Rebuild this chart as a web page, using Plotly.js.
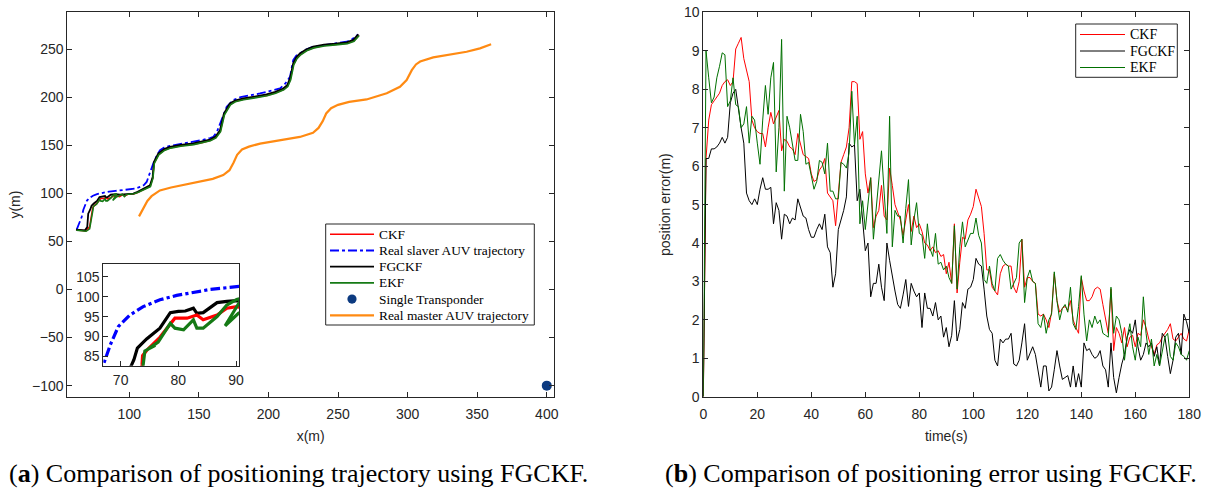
<!DOCTYPE html>
<html>
<head>
<meta charset="utf-8">
<script src="https://cdn.plot.ly/plotly-3.0.1.min.js"></script>
<style>html,body{margin:0;padding:0;background:#fff;}#chart{width:1207px;height:490px;}</style>
</head>
<body>
<div id="chart"></div>
<script>
// ---------- Panel (a): trajectories, [x, y] in metres ----------
const slaverTrajectory = [[62.2,62.2],[64,68],[65.8,75.3],[67,82.9],[68.2,87.9],[69.6,92.5],[71.6,95.4],[73.9,97.5],[76.8,99.2],[79.7,100.3],[82.6,101],[85.5,101.8],[90.1,102.5],[98.1,103.6],[104,104.8],[107.7,106.6],[110.5,108.5],[112.5,111.8],[114.5,120],[117.2,131],[120,140],[122.1,144.8],[125,147.5],[129.2,149.3],[137,151.5],[146,153.5],[153,155.5],[158,157.5],[160.3,158.6],[163,164],[165.2,172.6],[170,189.9],[174.7,196.9],[180,200],[193.9,203.8],[202,206.5],[208.3,209],[212,214],[215.5,221.1],[217.8,238.5],[220,243],[222.6,245.5],[227,249.5],[232.2,252.4],[245,255.5],[256.2,257.6],[260,260],[264.5,265.3]];
const fgckfTrajectory = [[61.7,62.2],[68.2,61.5],[69.8,64.9],[70.5,78.8],[71.9,82.9],[72.3,84.2],[72.9,87.1],[74.5,89.4],[76.8,92.1],[78.6,96],[80,96.3],[81.2,96.4],[82.6,97.1],[83.2,95.8],[84.3,96],[86.7,98.5],[88.4,98.8],[90.1,99],[93.3,98.6],[98,99.2],[102.9,99.7],[106,101.5],[110.1,104.9],[114.9,108.3],[116.8,117],[117.7,132.6],[120.8,141.3],[125,146],[129.2,148.2],[137,150.3],[146,151.8],[152,153.5],[158,155.9],[162,159],[165.2,165.6],[168,183],[172.3,193.4],[176,196.5],[181.9,198.6],[190,200.5],[198.6,202.8],[205,205.5],[210.6,209],[213.5,212.5],[215.5,219.5],[217.8,235.1],[220,241.5],[222.6,245.5],[227,249.5],[232.2,252.4],[240,254.5],[248,255.5],[256.2,257],[261,259.5],[264.5,265.3]];
const ckfTrajectory = [[62,62],[68.5,61],[71.5,65],[73,76],[73.7,82.9],[73.8,85.2],[74.6,86.7],[76.8,89.8],[79.4,94.6],[81.5,94.6],[83.2,95.4],[84.3,94.2],[86.7,95.4],[88.4,97.1],[90.1,97.5],[93,96.5],[95,98.5],[97,97.6],[99,99],[103,99.3],[106,100.8],[110.3,104],[115,107.5],[116.9,116],[117.8,131.5],[121,140.3],[125,145],[129.5,147.3],[137,149.4],[146,151],[152,152.6],[158,155],[162,158],[165.4,164.6],[168.2,182],[172.5,192.4],[176,195.6],[182,197.7],[190,199.6],[198.8,201.8],[205,204.5],[210.8,208],[213.7,211.5],[215.7,218.5],[218,234],[220.3,240.5],[223,244.5],[227.3,248.6],[232.5,251.5],[240,253.6],[248,254.7],[256.5,256],[261.3,258.5],[265,264.5]];
const ekfTrajectory = [[62,61.5],[69,60.5],[71.5,63],[73.2,75],[73.9,82.9],[74.2,86.4],[76.0,87.8],[74.8,86.9],[76.5,88.6],[78.6,93.3],[79.4,92.1],[80.9,91.7],[82.6,94.2],[83.2,92.1],[84.3,92.1],[86.7,95],[88.4,97.9],[90.1,99.3],[91,99.6],[88.1,92.7],[90.4,95.8],[92.5,97.5],[95,99],[96.5,96.5],[98,98.8],[101,99.2],[103.5,99.5],[106.5,101],[110.5,103.5],[115.2,107],[117,115.5],[118,131],[121.2,140],[125.3,144.6],[129.8,147],[137,149],[146.3,150.6],[152,152.3],[158.3,154.6],[162.3,157.6],[165.6,164],[168.4,181.5],[172.7,192],[176.2,195.2],[182.2,197.3],[190.2,199.2],[199,201.5],[205.2,204],[211,207.6],[213.9,211],[216,218],[218.2,233.5],[220.5,240],[223.2,244],[227.5,248.2],[232.7,251.2],[240.2,253.2],[248.2,254.3],[256.7,255.6],[261.5,258],[265.2,264]];
const masterTrajectory = [[107,76],[110,84],[113,92],[116,97],[122,103],[130,106],[146,110.7],[160,115],[167.5,119],[172,124],[175,132],[177.5,140],[181,145.5],[186,148.5],[194,151.7],[210,156],[222.6,158.6],[232,163],[236,168],[239,175],[241.5,183],[245,188.5],[250,192],[258,195],[270.5,197.6],[285,204],[294.5,210.7],[299.3,217.7],[303,228],[306,234],[309,237],[318.4,241.3],[330,244.5],[342.4,247.2],[352,250.7],[360,255]];
const transponder = [[400,-100]];

// ---------- Panel (b): position error (m) each second ----------
const ckfError = [0,6.2,7.2,7.6,7.7,7.8,7.9,8.1,8.2,8.25,
 8.1,8.2,9.05,9.2,9.35,8.8,8.5,8.2,7.2,7.0,
 6.9,6.85,6.85,6.5,7.0,7.4,7.1,7.3,7.45,6.4,
 6.7,6.65,6.5,6.45,6.3,6.85,6.6,6.3,6.25,6.2,
 5.8,5.6,5.65,5.9,6.0,6.2,5.3,5.2,5.1,4.45,
 5.3,6.1,6.3,6.5,7.0,8.2,8.2,8.15,6.7,6.9,
 5.8,5.3,5.7,4.4,4.7,4.85,5.5,4.7,4.6,5.95,
 5.5,5.0,4.8,4.6,4.2,4.6,5.0,4.3,4.7,4.4,
 4.5,4.3,4.0,3.95,3.8,3.9,3.75,3.8,3.65,3.7,
 3.2,3.5,2.95,4.5,2.7,3.5,4.15,4.1,4.6,4.75,
 4.95,5.4,5.2,4.95,4.25,3.3,3.3,2.85,2.75,2.65,
 3.2,3.4,3.45,3.4,3.4,2.85,2.7,3.0,4.1,2.85,
 3.1,3.1,3.0,2.95,2.15,2.1,2.15,2.0,1.8,2.2,
 3.2,2.5,2.2,2.3,2.35,2.25,2.5,2.0,1.8,1.65,
 3.1,2.75,2.5,2.5,2.6,2.8,2.85,2.8,2.4,2.0,
 1.65,2.8,1.2,1.8,1.65,1.4,1.8,1.3,1.55,1.6,
 1.3,1.65,1.6,2.0,1.8,1.5,1.3,1.1,1.35,1.4,
 1.55,1.65,1.75,1.9,1.5,1.45,1.55,1.65,1.5,1.45,
 1.75];
const fgckfError = [0,6.2,6.2,6.45,6.45,6.5,6.6,6.75,6.6,6.75,
 7.65,7.9,8.0,7.45,7.0,6.6,5.3,5.1,5.0,5.15,
 5.0,5.4,5.7,5.4,5.4,5.45,4.5,5.05,4.85,4.1,
 4.75,4.7,4.5,4.65,4.6,5.15,4.95,4.7,4.65,4.35,
 4.15,4.15,4.35,4.5,4.35,4.75,3.9,3.75,2.85,3.2,
 4.35,4.6,4.85,5.2,6.6,6.5,6.55,5.1,5.4,4.6,
 3.8,4.0,2.6,2.95,2.95,3.45,2.85,2.5,4.0,3.55,
 3.1,2.75,2.4,2.3,2.65,3.05,2.35,2.95,2.75,2.6,
 2.7,1.8,2.7,2.3,2.3,2.1,2.45,2.0,2.1,1.55,
 1.8,1.3,1.6,2.5,1.45,1.75,2.45,2.3,2.8,2.85,
 3.05,3.6,3.45,3.4,2.8,2.1,1.75,1.65,0.95,0.8,
 1.5,1.4,1.5,1.5,1.65,0.85,0.8,0.95,1.4,1.9,
 0.95,1.15,1.3,1.1,0.7,0.25,0.8,0.8,0.15,0.25,
 0.7,1.2,0.8,0.45,0.5,0.55,0.25,0.8,0.25,0.6,
 0.25,1.4,1.2,1.25,1.1,1.0,1.05,1.2,0.8,0.7,
 0.25,1.4,0.5,0.1,0.5,0.85,1.1,1.55,1.75,1.65,
 2.0,1.3,0.95,1.1,1.4,1.3,1.4,1.05,1.3,0.8,
 1.65,1.55,1.05,0.6,0.95,1.55,1.65,1.1,2.15,1.95,
 1.65];
const ekfError = [0,9.0,8.3,7.65,7.8,8.3,8.6,8.95,8.9,7.55,
 7.7,8.3,7.6,7.55,7.0,7.1,7.55,6.6,7.3,7.2,
 6.6,6.05,7.2,8.1,7.35,8.3,8.7,5.85,7.0,9.3,
 5.35,7.3,7.0,6.6,6.15,6.15,7.35,6.9,6.05,6.1,
 5.7,5.4,5.6,6.15,6.1,5.8,6.6,5.35,5.35,5.15,
 5.15,6.1,6.05,5.95,6.35,7.95,6.55,7.3,4.5,5.1,
 4.35,5.0,5.7,4.1,4.9,5.6,6.4,5.3,4.25,7.3,
 3.9,4.85,4.7,4.7,4.0,4.9,5.65,3.95,4.6,5.05,
 4.25,4.2,3.6,4.5,3.85,3.65,4.25,3.45,3.5,3.3,
 3.4,3.1,2.95,4.45,2.8,3.9,4.55,3.9,4.1,4.25,
 4.25,4.65,4.2,4.0,3.05,2.95,3.4,2.95,2.75,3.6,
 3.7,3.55,3.45,3.4,2.8,2.95,3.1,4.0,4.1,2.45,
 3.1,3.3,3.0,2.95,1.9,1.8,2.15,1.65,2.0,2.15,
 3.25,2.5,2.0,2.3,2.4,2.2,2.85,1.9,1.75,2.35,
 3.15,2.15,1.45,2.0,1.8,2.1,1.9,2.0,1.65,1.6,
 1.55,2.85,1.65,2.1,2.0,1.65,0.95,1.55,1.9,1.3,
 0.95,1.55,1.3,2.6,1.65,1.1,1.5,0.8,1.1,0.8,
 1.2,1.55,1.65,1.05,0.95,1.4,1.3,1.1,1.05,0.95,
 1.2];
const timeSeconds = ckfError.map((_, i) => i);

const xTicksA = [100,150,200,250,300,350,400];
const yTicksA = [-100,-50,0,50,100,150,200,250];
const xTicksInset = [70,80,90];
const yTicksInset = [85,90,95,100,105];
const xTicksB = [0,20,40,60,80,100,120,140,160,180];
const yTicksB = [0,1,2,3,4,5,6,7,8,9,10];

const W = 1207, H = 490;
const COL = {ckf:'#ff0000', slaver:'#0000ff', fgckf:'#000000', ekf:'#157a15', ekfB:'#007000', master:'#ff8a12', tp:'#0c3a80'};
const xs = a => a.map(p => p[0]);
const ys = a => a.map(p => p[1]);

const traces = [];
function traj(data, name, color, width, dash, xa, ya) {
  traces.push({type:'scatter', mode:'lines', x:xs(data), y:ys(data), name:name,
    line:{color:color, width:width, dash:dash||'solid'}, xaxis:xa, yaxis:ya, showlegend:false, hoverinfo:'skip'});
}
// panel a (legend order)
const legendA = [
  {name:'CKF', data:ckfTrajectory, color:COL.ckf, width:1.6, dash:'solid'},
  {name:'Real slaver AUV trajectory', data:slaverTrajectory, color:COL.slaver, width:1.8, dash:'dashdot'},
  {name:'FGCKF', data:fgckfTrajectory, color:COL.fgckf, width:1.8, dash:'solid'},
  {name:'EKF', data:ekfTrajectory, color:COL.ekf, width:1.6, dash:'solid'},
  {name:'Single Transponder', data:transponder, color:COL.tp, marker:true},
  {name:'Real master AUV trajectory', data:masterTrajectory, color:COL.master, width:2.2, dash:'solid'}
];
legendA.forEach(s => {
  if (s.marker) {
    traces.push({type:'scatter', mode:'markers', x:xs(s.data), y:ys(s.data), name:s.name,
      marker:{color:s.color, size:10}, xaxis:'x', yaxis:'y', showlegend:false, hoverinfo:'skip'});
  } else traj(s.data, s.name, s.color, s.width, s.dash, 'x', 'y');
});
// inset
traj(slaverTrajectory, 'Real slaver AUV trajectory', COL.slaver, 3.2, 'dashdot', 'x3', 'y3');
traj(fgckfTrajectory, 'FGCKF', COL.fgckf, 3.2, null, 'x3', 'y3');
traj(ckfTrajectory, 'CKF', COL.ckf, 3.2, null, 'x3', 'y3');
traj(ekfTrajectory, 'EKF', COL.ekf, 3.2, null, 'x3', 'y3');

// panel b
const legendB = [
  {name:'CKF', data:ckfError, color:COL.ckf},
  {name:'FGCKF', data:fgckfError, color:COL.fgckf},
  {name:'EKF', data:ekfError, color:COL.ekfB}
];
legendB.forEach(s => {
  traces.push({type:'scatter', mode:'lines', x:timeSeconds, y:s.data, name:s.name, line:{color:s.color, width:1},
    xaxis:'x2', yaxis:'y2', showlegend:false, hoverinfo:'skip'});
});

const axCol = '#262626';
const tickFont = {family:'Liberation Sans, Arial, sans-serif', size:14, color:axCol};
const serif = 'Liberation Serif, Times New Roman, serif';
function ax(extra) {
  return Object.assign({showline:true, linecolor:axCol, linewidth:1, mirror:'allticks', ticks:'inside',
    ticklen:5, tickcolor:axCol, tickwidth:1, showgrid:false, zeroline:false, tickfont:tickFont, tickmode:'array'}, extra);
}

// hand-drawn legend boxes (styling only) positioned in pixels of the figure
const px = (x) => x / W, py = (y) => 1 - y / H;
const shapes = [], annotations = [];
function drawLegend(items, box, rowY, lineX0, lineX1, textX, fsize) {
  shapes.push({type:'rect', xref:'paper', yref:'paper', x0:px(box[0]), x1:px(box[1]), y0:py(box[3]), y1:py(box[2]),
    line:{color:axCol, width:1}, fillcolor:'#fff', layer:'above'});
  items.forEach((s, i) => {
    const y = py(rowY[i]);
    if (s.marker) {
      const cx = (lineX0 + lineX1) / 2;
      shapes.push({type:'circle', xref:'paper', yref:'paper', x0:px(cx-4.6), x1:px(cx+4.6), y0:py(rowY[i]+4.6), y1:py(rowY[i]-4.6),
        fillcolor:s.color, line:{color:s.color, width:0}, layer:'above'});
    } else {
      shapes.push({type:'line', xref:'paper', yref:'paper', x0:px(lineX0), x1:px(lineX1), y0:y, y1:y,
        line:{color:s.color, width:s.width || 1, dash:s.dash || 'solid'}, layer:'above'});
    }
    annotations.push({xref:'paper', yref:'paper', x:px(textX), y:y, xanchor:'left', yanchor:'middle', showarrow:false,
      text:s.name, font:{family:serif, size:fsize, color:'#000'}});
  });
}
drawLegend(legendA, [325.7, 534.3, 224, 325], [234.3, 250.5, 266.7, 282.9, 299.1, 315.3], 330, 374, 376.5, 13.4);
drawLegend(legendB, [1075.7, 1177.3, 24, 77.3], [34.5, 51, 67.5], 1080, 1125, 1127.5, 14);

annotations.push(
  {xref:'paper', yref:'paper', x:px(7), y:py(473), xanchor:'left', yanchor:'middle', showarrow:false,
   text:'(<b>a</b>) Comparison of positioning trajectory using FGCKF.', font:{family:serif, size:26, color:'#000'}},
  {xref:'paper', yref:'paper', x:px(663), y:py(473), xanchor:'left', yanchor:'middle', showarrow:false,
   text:'(<b>b</b>) Comparison of positioning error using FGCKF.', font:{family:serif, size:26, color:'#000'}}
);

const yDom = [0.1904, 0.9745];
const layout = {
  width:W, height:H, margin:{l:0, r:0, t:0, b:0}, paper_bgcolor:'#fff', plot_bgcolor:'rgba(0,0,0,0)',
  showlegend:false,
  xaxis: ax({domain:[0.0558,0.4590], range:[55.5,405.2], tickvals:xTicksA, anchor:'y', ticklabelstandoff:4,
    title:{text:'x(m)', font:tickFont, standoff:10}}),
  yaxis: ax({domain:yDom, range:[-111.5,288], tickvals:yTicksA, anchor:'x',
    title:{text:'y(m)', font:tickFont, standoff:8}}),
  xaxis3: ax({domain:[0.0856,0.1980], range:[67,90.5], tickvals:xTicksInset, anchor:'y3', mirror:true, ticklabelstandoff:2}),
  yaxis3: ax({domain:[0.2537,0.4606], range:[82.7,108.1], tickvals:yTicksInset, anchor:'x3', mirror:true}),
  xaxis2: ax({domain:[0.5827,0.9853], range:[0,180], tickvals:xTicksB, anchor:'y2', ticklabelstandoff:4,
    title:{text:'time(s)', font:tickFont, standoff:10}}),
  yaxis2: ax({domain:yDom, range:[0,10], tickvals:yTicksB, anchor:'x2',
    title:{text:'position error(m)', font:tickFont, standoff:10}}),
  shapes: shapes,
  annotations: annotations
};
Plotly.newPlot('chart', traces, layout, {staticPlot:true, displayModeBar:false});
</script>
</body>
</html>
